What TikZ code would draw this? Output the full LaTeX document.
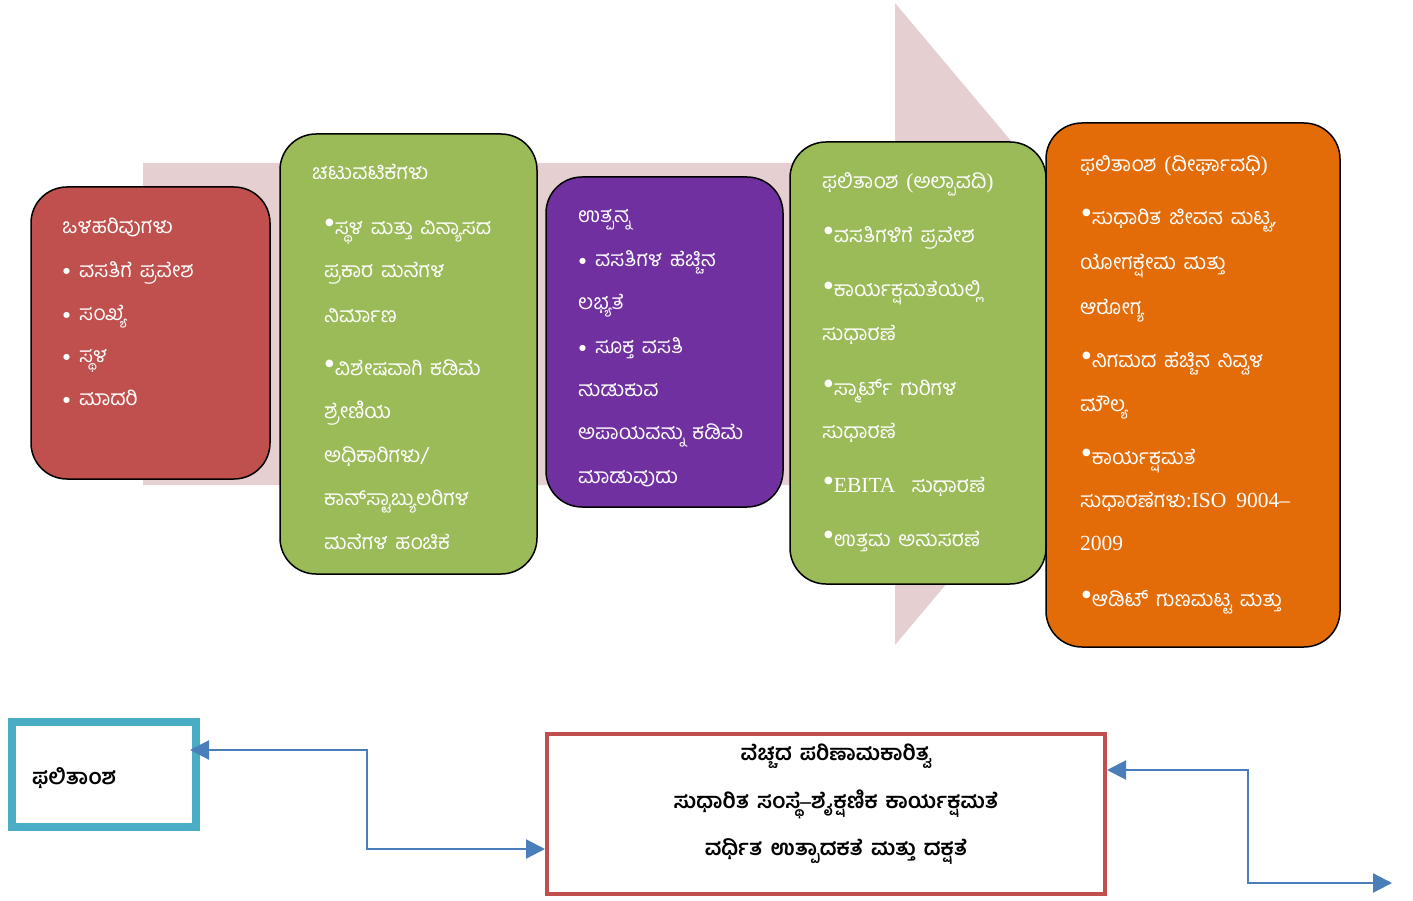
\documentclass[tikz,border=0pt]{standalone}
\usepackage{fontspec}
\setmainfont{Liberation Serif}
\newfontfamily\kn[Script=Kannada,WordSpace=1.5]{Hind Mysuru}
\newfontfamily\djv{DejaVu Sans}
\usetikzlibrary{arrows.meta}
\definecolor{arrowpink}{HTML}{E6CFD0}
\definecolor{boxred}{HTML}{C0504D}
\definecolor{boxgreen}{HTML}{9BBB59}
\definecolor{boxpurple}{HTML}{7030A0}
\definecolor{boxorange}{HTML}{E36C09}
\definecolor{boxteal}{HTML}{4BACC6}
\definecolor{connblue}{HTML}{4A7EBB}
\newcommand{\lat}{\rmfamily\fontsize{21.5}{22}\selectfont}
\newcommand{\rb}{\raisebox{9pt}{\djv\fontsize{10}{10}\selectfont ●}\hspace{1pt}}
\newcommand{\nb}{\raisebox{3pt}{\djv\fontsize{8}{8}\selectfont ●}\hspace{9pt}}
\begin{document}
\begin{tikzpicture}[x=1pt,y=-1pt,
  stagebox/.style={draw=black,line width=1.5pt,rounded corners=36pt},
  txt/.style={anchor=west,text=white,inner sep=0pt,text height=17pt,text depth=3pt,
    font=\kn\fontsize{21}{23}\selectfont},
  btxt/.style={anchor=center,text=black,inner sep=0pt,
    font=\kn\bfseries\fontsize{21.5}{24}\selectfont},
  conn2/.style={draw=connblue,line width=2.2pt,
    arrows={Triangle[length=19pt,width=19pt]-Triangle[length=19pt,width=19pt]}}]
\useasboundingbox (0,0) rectangle (1413,901);
% background arrow
\fill[arrowpink] (143,163) -- (895,163) -- (895,3) -- (1165,324) -- (895,645) -- (895,485) -- (143,485) -- cycle;
% stage boxes
\draw[stagebox,fill=boxred] (31,187) rectangle (270,479);
\draw[stagebox,fill=boxgreen] (280,134) rectangle (537,574);
\draw[stagebox,fill=boxpurple] (546,177) rectangle (783,507);
\draw[stagebox,fill=boxgreen] (790,142) rectangle (1046,584);
\draw[stagebox,fill=boxorange] (1046,123) rectangle (1340,647);
% box 1
\node[txt] (a0) at (62,227) {ಒಳಹರಿವುಗಳು};
\node[txt] (a1) at (63,270) {\nb ವಸತಿಗೆ ಪ್ರವೇಶ};
\node[txt] (a2) at (63,313) {\nb ಸಂಖ್ಯೆ};
\node[txt] (a3) at (63,355) {\nb ಸ್ಥಳ};
\node[txt] (a4) at (63,398) {\nb ಮಾದರಿ};
% box 2
\node[txt] (b0) at (312,173) {ಚಟುವಟಿಕೆಗಳು};
\node[txt] (b1) at (325,228) {\rb ಸ್ಥಳ ಮತ್ತು ವಿನ್ಯಾಸದ};
\node[txt] (b2) at (324,271) {ಪ್ರಕಾರ ಮನೆಗಳ};
\node[txt] (b3) at (324,315) {ನಿರ್ಮಾಣ};
\node[txt] (b4) at (325,368) {\rb ವಿಶೇಷವಾಗಿ ಕಡಿಮೆ};
\node[txt] (b5) at (324,411) {ಶ್ರೇಣಿಯ};
\node[txt] (b6) at (324,455) {ಅಧಿಕಾರಿಗಳು/};
\node[txt] (b7) at (324,498) {ಕಾನ್‌ಸ್ಟಾಬ್ಯುಲರಿಗಳ};
\node[txt] (b8) at (324,542) {ಮನೆಗಳ ಹಂಚಿಕೆ};
% box 3
\node[txt] (c0) at (578,216) {ಉತ್ಪನ್ನ};
\node[txt] (c1) at (579,260) {\nb ವಸತಿಗಳ ಹೆಚ್ಚಿನ};
\node[txt] (c2) at (578,302) {ಲಭ್ಯತೆ};
\node[txt] (c3) at (579,346) {\nb ಸೂಕ್ತ ವಸತಿ};
\node[txt] (c4) at (578,389) {ಹುಡುಕುವ};
\node[txt] (c5) at (578,432) {ಅಪಾಯವನ್ನು ಕಡಿಮೆ};
\node[txt] (c6) at (578,476) {ಮಾಡುವುದು};
% box 4
\node[txt] (d0) at (822,182) {ಫಲಿತಾಂಶ {\lat(}ಅಲ್ಪಾವದಿ{\lat)}};
\node[txt] (d1) at (824,236) {\rb ವಸತಿಗಳಿಗೆ ಪ್ರವೇಶ};
\node[txt] (d2) at (824,290) {\rb ಕಾರ್ಯಕ್ಷಮತೆಯಲ್ಲಿ};
\node[txt] (d3) at (822,333) {ಸುಧಾರಣೆ};
\node[txt] (d4) at (824,388) {\rb ಸ್ಮಾರ್ಟ್ ಗುರಿಗಳ};
\node[txt] (d5) at (822,431) {ಸುಧಾರಣೆ};
\node[txt] (d6) at (824,485) {\rb{\lat EBITA}\hspace{16pt}ಸುಧಾರಣೆ};
\node[txt] (d7) at (824,539) {\rb ಉತ್ತಮ ಅನುಸರಣೆ};
% box 5
\node[txt] (e0) at (1080,165) {ಫಲಿತಾಂಶ {\lat(}ದೀರ್ಘಾವಧಿ{\lat)}};
\node[txt] (e1) at (1082,218) {\rb ಸುಧಾರಿತ ಜೀವನ ಮಟ್ಟ,};
\node[txt] (e2) at (1080,263) {ಯೋಗಕ್ಷೇಮ ಮತ್ತು};
\node[txt] (e3) at (1080,307) {ಆರೋಗ್ಯ};
\node[txt] (e4) at (1082,360) {\rb ನಿಗಮದ ಹೆಚ್ಚಿನ ನಿವ್ವಳ};
\node[txt] (e5) at (1080,404) {ಮೌಲ್ಯ};
\node[txt] (e6) at (1082,457) {\rb ಕಾರ್ಯಕ್ಷಮತೆ};
\node[txt] (e7) at (1080,500) {ಸುಧಾರಣೆಗಳು{\lat :ISO\hspace{10pt}9004–}};
\node[txt] (e8) at (1080,543) {{\lat 2009}};
\node[txt] (e9) at (1082,599) {\rb ಆಡಿಟ್ ಗುಣಮಟ್ಟ ಮತ್ತು};
% bottom boxes
\node[draw=boxteal,line width=8pt,minimum width=184pt,minimum height=105pt,inner sep=0pt] (teal) at (104,774.5) {};
\node[btxt,anchor=west] (tealtxt) at (32,778) {ಫಲಿತಾಂಶ};
\node[draw=boxred,line width=4pt,minimum width=558pt,minimum height=160pt,inner sep=0pt] (res) at (826,814) {};
\node[btxt] (r1) at (836,756) {ವೆಚ್ಚದ ಪರಿಣಾಮಕಾರಿತ್ವ};
\node[btxt] (r2) at (836,804) {ಸುಧಾರಿತ ಸಂಸ್ಥೆ{\rmfamily\bfseries –}ಶೈಕ್ಷಣಿಕ ಕಾರ್ಯಕ್ಷಮತೆ};
\node[btxt] (r3) at (836,852) {ವರ್ಧಿತ ಉತ್ಪಾದಕತೆ ಮತ್ತು ದಕ್ಷತೆ};
% connectors
\coordinate (k1) at (367,849);
\coordinate (k2) at (367,750);
\draw[conn2] ([xshift=-10pt]teal.east |- k2) -- (k2) -- (k1) -- (res.west |- k1);
\coordinate (m1) at (1248,770);
\coordinate (m2) at (1248,883);
\coordinate (freeend) at (1392,883);
\draw[conn2] (res.east |- m1) -- (m1) -- (m2) -- (freeend);
\end{tikzpicture}
\end{document}
